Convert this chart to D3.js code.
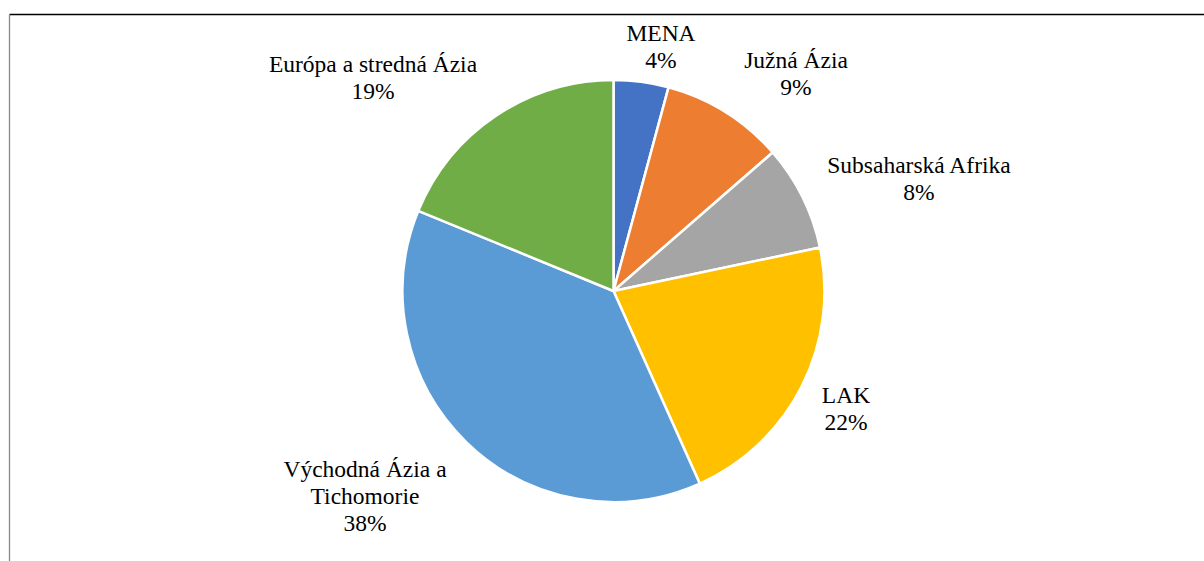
<!DOCTYPE html>
<html>
<head>
<meta charset="utf-8">
<script src="https://cdn.jsdelivr.net/npm/d3@7"></script>
<style>
  body { margin: 0; background: #fff; }
  svg text { font-family: "Liberation Serif", "Times New Roman", serif; font-size: 23.5px; fill: #000; }
</style>
</head>
<body>
<div class="chart"></div>
<script>
// regions and their share
var regions = ["MENA", "Južná Ázia", "Subsaharská Afrika", "LAK", "Východná Ázia a Tichomorie", "Európa a stredná Ázia"];
var shares = [4.2, 9.4, 8.1, 21.6, 37.9, 18.8];
var colors = ["#4472C4", "#ED7D31", "#A5A5A5", "#FFC000", "#5B9BD5", "#70AD47"];
// how the labels are broken into lines
var labelLines = [["MENA"], ["Južná Ázia"], ["Subsaharská Afrika"], ["LAK"], ["Východná Ázia a", "Tichomorie"], ["Európa a stredná Ázia"]];

var width = 1204, height = 561;
var cx = 613.5, cy = 291, radius = 211;

// label anchors (first baseline) relative to the pie centre, like excel's best fit
var labelOffsets = [[47.5, -250], [182.5, -222.7], [305.5, -117.7], [232.5, 112.3], [-248.5, 185.7], [-240.5, -219.5]];
var lineHeight = 27;

var data = regions.map(function(r, i) {
  return { name: r, value: shares[i], color: colors[i], lines: labelLines[i], off: labelOffsets[i] };
});

var svg = d3.select(".chart").append("svg")
  .attr("width", width)
  .attr("height", height);

// chart frame (only top and left edges show in the crop)
svg.append("line")
  .attr("x1", 9.5).attr("y1", 14.5).attr("x2", width).attr("y2", 14.5)
  .attr("stroke", "#000").attr("stroke-width", 1.3);
svg.append("line")
  .attr("x1", 9.5).attr("y1", 14.5).attr("x2", 9.5).attr("y2", height)
  .attr("stroke", "#888").attr("stroke-width", 1.3);

var pie = d3.pie()
  .sort(null)
  .value(function(d) { return d.value; });

var arc = d3.arc()
  .innerRadius(0)
  .outerRadius(radius);

var g = svg.append("g")
  .attr("transform", "translate(" + cx + "," + cy + ")");

g.selectAll("path")
  .data(pie(data))
  .enter()
  .append("path")
  .attr("d", arc)
  .attr("fill", function(d) { return d.data.color; })
  .attr("stroke", "#fff")
  .attr("stroke-width", 2.5)
  .attr("stroke-linejoin", "round");

var labels = g.selectAll(".lbl")
  .data(data)
  .enter()
  .append("text")
  .attr("class", "lbl")
  .attr("text-anchor", "middle");

labels.each(function(d) {
  var t = d3.select(this);
  var rows = d.lines.concat([Math.round(d.value) + "%"]);
  rows.forEach(function(row, k) {
    t.append("tspan")
      .attr("x", d.off[0])
      .attr("y", d.off[1] + k * lineHeight)
      .text(row);
  });
});
</script>
</body>
</html>
